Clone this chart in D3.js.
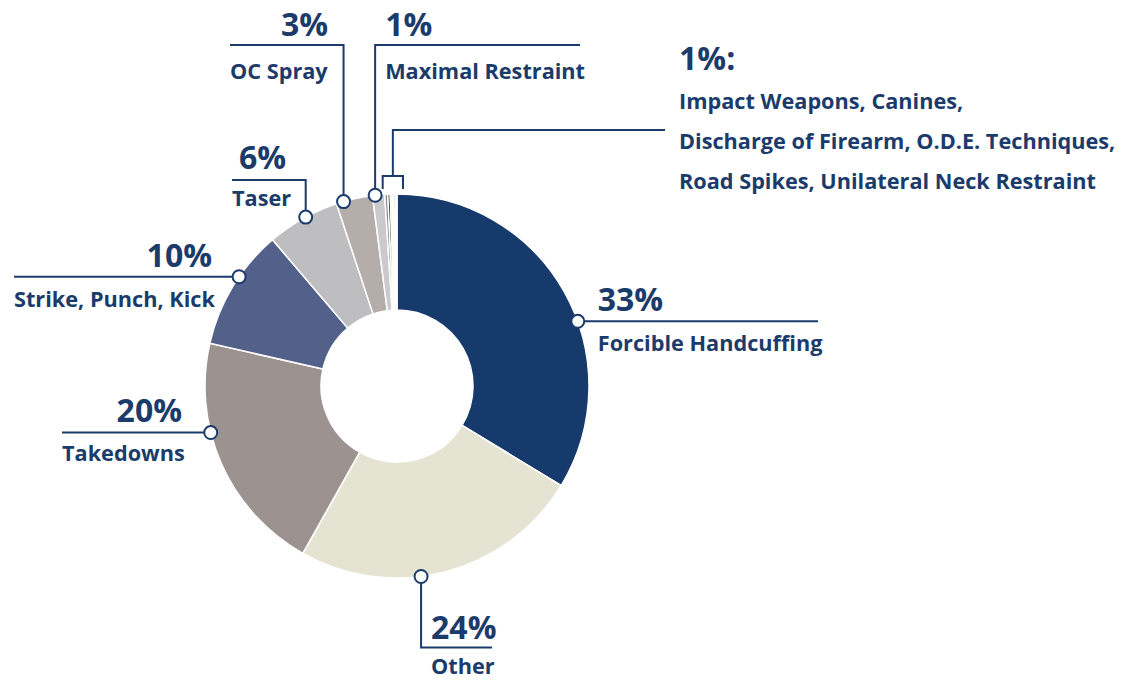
<!DOCTYPE html>
<html>
<head>
<meta charset="utf-8">
<script src="https://cdn.jsdelivr.net/npm/d3@7"></script>
<style>
  html, body { margin: 0; padding: 0; background: #ffffff; }
  svg { display: block; }
  text { font-family: "Open Sans", "DejaVu Sans", sans-serif; font-weight: 700; fill: #1b3b6b; }
</style>
</head>
<body>
<svg id="chart" width="1136" height="681"></svg>
<script>
// Use-of-force types, share of all incidents (%)
const categories = [
  "Forcible Handcuffing", "Other", "Takedowns", "Strike, Punch, Kick",
  "Taser", "OC Spray", "Maximal Restraint",
  "Impact Weapons", "Canines", "Discharge of Firearm",
  "O.D.E. Techniques", "Road Spikes", "Unilateral Neck Restraint"
];
const values = [33, 24, 20, 10, 6, 3, 1, 0.25, 0.2, 0.15, 0.15, 0.15, 0.1];
const colors = [
  "#163a6b", "#e5e4d3", "#9c9391", "#53608a", "#bebec1", "#b5ada9", "#cacacd",
  "#8e8e8e", "#231f20", "#d2d2d2", "#ececec", "#aaaaaa", "#dcdcdc"
];
const pctLabels = ["33%", "24%", "20%", "10%", "6%", "3%", "1%"];
const groupPct = "1%:";
const groupLines = [
  "Impact Weapons, Canines,",
  "Discharge of Firearm, O.D.E. Techniques,",
  "Road Spikes, Unilateral Neck Restraint"
];

const navy = "#1b3b6b";
const svg = d3.select("#chart");
const cx = 397, cy = 386, R = 192, r = 76;

const pie = d3.pie().sort(null).value(d => d);
const arcs = pie(values);
const arc = d3.arc().innerRadius(r).outerRadius(R);

const g = svg.append("g").attr("transform", `translate(${cx},${cy})`);
g.selectAll("path.slice")
  .data(arcs)
  .join("path")
  .attr("class", "slice")
  .attr("d", arc)
  .attr("fill", (d, i) => colors[i])
  .attr("stroke", "#ffffff")
  .attr("stroke-width", 1.5);

// point on the outer rim at a fraction of the way through a slice
function rimPoint(i, frac) {
  const a = arcs[i].startAngle + frac * (arcs[i].endAngle - arcs[i].startAngle);
  return [cx + R * Math.sin(a), cy - R * Math.cos(a)];
}
function rimAt(a) {
  return [cx + R * Math.sin(a), cy - R * Math.cos(a)];
}

const leaders = svg.append("g")
  .attr("fill", "none")
  .attr("stroke", navy)
  .attr("stroke-width", 2);
const dots = [];

function pct(x, y, t, anchor) {
  svg.append("text").attr("x", x).attr("y", y)
    .attr("font-size", 32).attr("text-anchor", anchor || "start").text(t);
}
function name(x, y, t, anchor) {
  svg.append("text").attr("x", x).attr("y", y)
    .attr("font-size", 21.7).attr("text-anchor", anchor || "start").text(t);
}

// Forcible Handcuffing — leader to the right
{
  const [x, y] = rimPoint(0, 0.58);
  leaders.append("path").attr("d", `M${x},${y}H818`);
  dots.push([x, y]);
  pct(x + 20, y - 10, pctLabels[0]);
  name(x + 20, y + 30, categories[0]);
}
// Other — leader down then right
{
  const [x, y] = rimPoint(1, 0.585);
  leaders.append("path").attr("d", `M${x},${y}V${y + 71}H${x + 71}`);
  dots.push([x, y]);
  pct(x + 10, y + 63, pctLabels[1]);
  name(x + 10, y + 98, categories[1]);
}
// Takedowns — leader to the left
{
  const [x, y] = rimPoint(2, 0.634);
  leaders.append("path").attr("d", `M${x},${y}H62`);
  dots.push([x, y]);
  pct(182, y - 11, pctLabels[2], "end");
  name(62, y + 28, categories[2]);
}
// Strike, Punch, Kick — leader to the left
{
  const [x, y] = rimPoint(3, 0.594);
  leaders.append("path").attr("d", `M${x},${y}H14`);
  dots.push([x, y]);
  pct(212, y - 10, pctLabels[3], "end");
  name(14, y + 30, categories[3]);
}
// Taser — leader up then left
{
  const [x, y] = rimPoint(4, 0.545);
  leaders.append("path").attr("d", `M${x},${y}V180H232`);
  dots.push([x, y]);
  pct(286, 169, pctLabels[4], "end");
  name(232, 206, categories[4]);
}
// OC Spray — leader up then left
{
  const [x, y] = rimPoint(5, 0.2);
  leaders.append("path").attr("d", `M${x},${y}V45H230`);
  dots.push([x, y]);
  pct(328, 36, pctLabels[5], "end");
  name(230, 79, categories[5]);
}
// Maximal Restraint — leader up then right
{
  const [x, y] = rimPoint(6, 0.22);
  leaders.append("path").attr("d", `M${x},${y}V45H580`);
  dots.push([x, y]);
  pct(x + 10, 36, pctLabels[6]);
  name(x + 10, 79, categories[6]);
}
// Remaining small categories — bracket over the group
{
  const first = arcs[7], last = arcs[arcs.length - 1];
  const [x0] = rimAt(first.startAngle);
  const [x1] = rimAt(last.endAngle);
  const bx0 = x0 - 2, bx1 = x1 + 6, by = 176;
  const stem = (bx0 + bx1) / 2;
  leaders.append("path").attr("d", `M${bx0},189V${by}H${bx1}V189`);
  leaders.append("path").attr("d", `M${stem},${by}V130H665`);
  pct(679, 70, groupPct);
  groupLines.forEach((t, k) => name(679, 109 + 40 * k, t));
}

svg.append("g").selectAll("circle")
  .data(dots)
  .join("circle")
  .attr("cx", d => d[0])
  .attr("cy", d => d[1])
  .attr("r", 6.5)
  .attr("fill", "#ffffff")
  .attr("stroke", navy)
  .attr("stroke-width", 2);
</script>
</body>
</html>
